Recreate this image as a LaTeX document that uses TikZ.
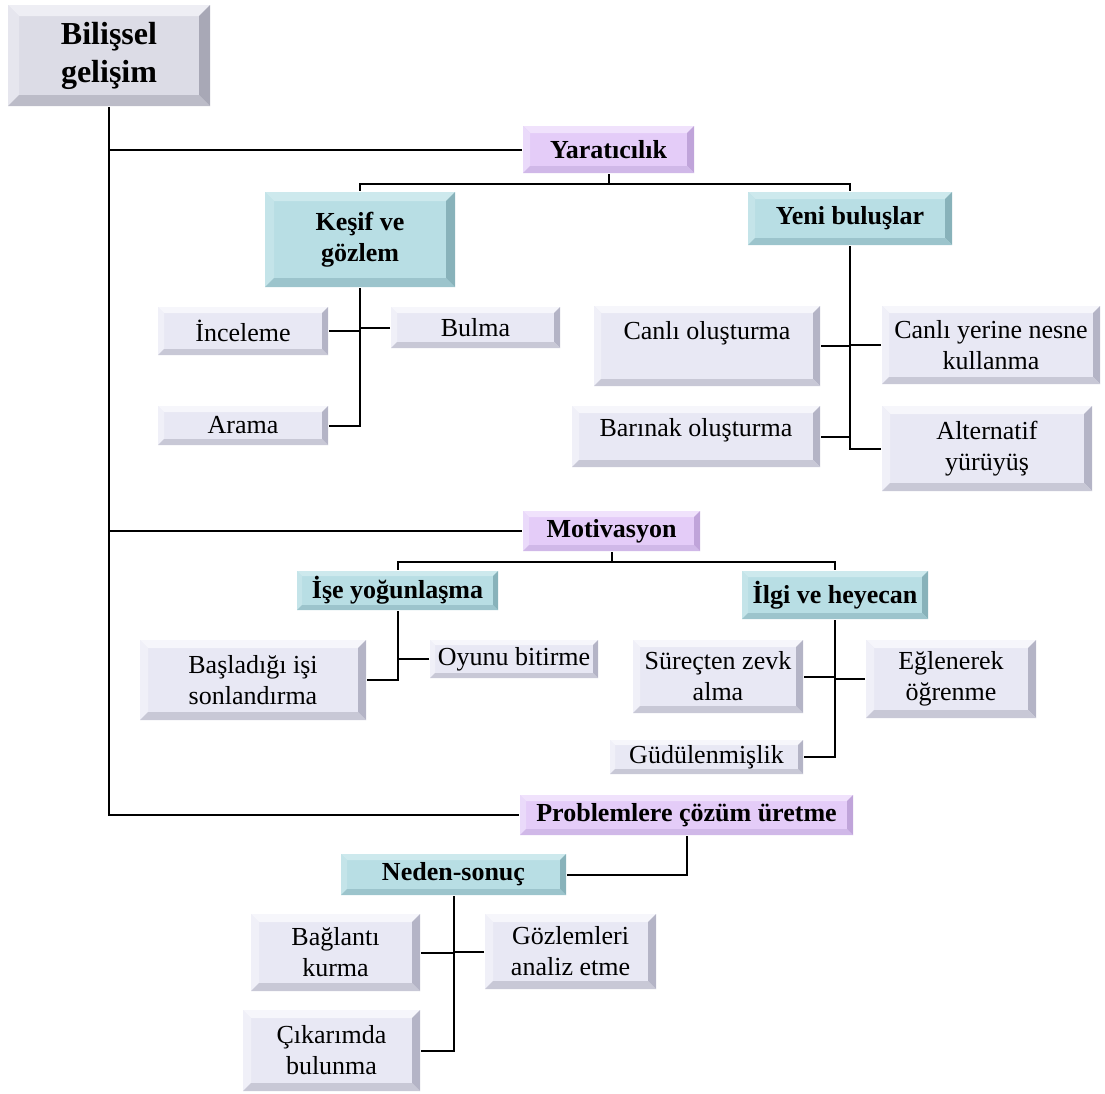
\documentclass[tikz,border=0pt]{standalone}
\usepackage{fontspec}
\setmainfont{Liberation Serif}
\usetikzlibrary{calc}
\definecolor{grayface}{HTML}{DCDCE6}\definecolor{graytop}{HTML}{EEEEF4}
\definecolor{grayleft}{HTML}{E6E6EE}\definecolor{grayright}{HTML}{A8A8B6}
\definecolor{graybot}{HTML}{BCBCC8}
\definecolor{lilface}{HTML}{E4CCF8}\definecolor{liltop}{HTML}{F0E2FC}
\definecolor{lilleft}{HTML}{EADAFA}\definecolor{lilright}{HTML}{C0A4DA}
\definecolor{lilbot}{HTML}{D0B8E8}
\definecolor{tealface}{HTML}{B8DEE4}\definecolor{tealtop}{HTML}{CDE9ED}
\definecolor{tealleft}{HTML}{C4E4E9}\definecolor{tealright}{HTML}{88B2BA}
\definecolor{tealbot}{HTML}{9CC4CC}
\definecolor{softface}{HTML}{E8E8F4}\definecolor{softtop}{HTML}{F6F6FB}
\definecolor{softleft}{HTML}{F0F0F8}\definecolor{softright}{HTML}{B4B4C6}
\definecolor{softbot}{HTML}{C8C8D6}
\begin{document}
\begin{tikzpicture}[x=1pt,y=-1pt,line width=2pt,
	bevel size/.store in=\bvsize, bevel size=6pt,
	bevel/.style n args={5}{fill=#1,draw=none,rectangle,inner sep=0pt,align=center,
		path picture={
			\path (path picture bounding box.north west) coordinate (bvnw)
				(path picture bounding box.south east) coordinate (bvse);
			\path (bvnw) ++(\bvsize,-\bvsize) coordinate (bvin)
				(bvse) ++(-\bvsize,\bvsize) coordinate (bvis);
			\fill[#2] (bvnw) -- (bvnw -| bvse) -- (bvin -| bvis) -- (bvin) -- cycle;
			\fill[#3] (bvnw) -- (bvin) -- (bvin |- bvis) -- (bvnw |- bvse) -- cycle;
			\fill[#4] (bvnw -| bvse) -- (bvse) -- (bvis) -- (bvin -| bvis) -- cycle;
			\fill[#5] (bvnw |- bvse) -- (bvin |- bvis) -- (bvis) -- (bvse) -- cycle;
		}},
	root/.style={bevel={grayface}{graytop}{grayleft}{grayright}{graybot},bevel size=11pt,
		font=\bfseries\fontsize{32}{38}\selectfont},
	topic/.style={bevel={lilface}{liltop}{lilleft}{lilright}{lilbot},
		font=\bfseries\fontsize{26}{31}\selectfont},
	sub/.style={bevel={tealface}{tealtop}{tealleft}{tealright}{tealbot},
		font=\bfseries\fontsize{26}{31}\selectfont},
	leaf/.style={bevel={softface}{softtop}{softleft}{softright}{softbot},
		font=\fontsize{26}{31}\selectfont}]
\useasboundingbox (0,0) rectangle (1105,1093);

\node[root,minimum width=202,minimum height=101] (bilissel) at (109,55.5) {Bilişsel\\gelişim};

\node[topic,minimum width=171,minimum height=47,bevel size=7pt] (yarat) at (608.5,149.5) {Yaratıcılık};
\node[sub,minimum width=190,minimum height=95,bevel size=9pt] (kesif) at (360,239.5) {Keşif ve\\gözlem};
\node[sub,minimum width=204,minimum height=53,bevel size=7pt] (yeni) at (850,218.5) {Yeni buluşlar};
\node[leaf,minimum width=170,minimum height=48] (incele) at (243,331) {İnceleme};
\node[leaf,minimum width=169,minimum height=41] (bulma) at (475.5,327.5) {Bulma};
\node[leaf,minimum width=170,minimum height=39] (arama) at (243,425.5) {Arama};
\node[leaf,minimum width=226,minimum height=80,bevel size=7pt,text depth=32pt] (canli) at (707,346) {Canlı oluşturma};
\node[leaf,minimum width=218,minimum height=78,bevel size=7pt] (canyer) at (991,345) {Canlı yerine nesne\\kullanma};
\node[leaf,minimum width=248,minimum height=61,bevel size=7pt,text depth=18pt] (barinak) at (696,436.5) {Barınak oluşturma};
\node[leaf,minimum width=210,minimum height=85,bevel size=8pt] (altern) at (987,448.5) {Alternatif\\yürüyüş};

\node[topic,minimum width=177,minimum height=40] (motiv) at (611.5,531) {Motivasyon};
\node[sub,minimum width=201,minimum height=39,bevel size=5pt] (iseyog) at (397.5,590.5) {İşe yoğunlaşma};
\node[sub,minimum width=186,minimum height=48] (ilgi) at (835,595) {İlgi ve heyecan};
\node[leaf,minimum width=226,minimum height=80,bevel size=8pt] (basladi) at (253,680) {Başladığı işi\\sonlandırma};
\node[leaf,minimum width=168,minimum height=38,bevel size=5pt] (oyunu) at (514,659) {Oyunu bitirme};
\node[leaf,minimum width=170,minimum height=73,bevel size=7pt] (surec) at (718,676.5) {Süreçten zevk\\alma};
\node[leaf,minimum width=170,minimum height=78,bevel size=8pt] (eglen) at (951,679) {Eğlenerek\\öğrenme};
\node[leaf,minimum width=193,minimum height=34,bevel size=5pt] (gudul) at (706.5,757) {Güdülenmişlik};

\node[topic,minimum width=333,minimum height=40] (problem) at (686.5,815) {Problemlere çözüm üretme};
\node[sub,minimum width=225,minimum height=41] (neden) at (453.5,874.5) {Neden-sonuç};
\node[leaf,minimum width=169,minimum height=77,bevel size=8pt] (baglanti) at (335.5,952.5) {Bağlantı\\kurma};
\node[leaf,minimum width=171,minimum height=75,bevel size=8pt] (gozlem) at (570.5,951.5) {Gözlemleri\\analiz etme};
\node[leaf,minimum width=177,minimum height=81,bevel size=8pt] (cikar) at (331.5,1050.5) {Çıkarımda\\bulunma};

\draw (bilissel.south) -- (bilissel.south |- problem.west) -- (problem.west);
\draw (bilissel.south |- yarat.west) -- (yarat.west);
\draw (bilissel.south |- motiv.west) -- (motiv.west);

\draw (yarat.south) -- ++(0,10) -| (kesif.north);
\draw (yarat.south) -- ++(0,10) -| (yeni.north);
\draw (kesif.south) -- (kesif.south |- arama.east) -- (arama.east);
\draw (incele.east) -- (kesif.south |- incele.east);
\draw (bulma.west) -- (kesif.south |- bulma.west);
\draw (yeni.south) -- (yeni.south |- altern.west) -- (altern.west);
\draw (canli.east) -- (yeni.south |- canli.east);
\draw (canyer.west) -- (yeni.south |- canyer.west);
\draw (barinak.east) -- (yeni.south |- barinak.east);

\draw (motiv.south) -- ++(0,10) -| (iseyog.north);
\draw (motiv.south) -- ++(0,10) -| (ilgi.north);
\draw (iseyog.south) -- (iseyog.south |- basladi.east) -- (basladi.east);
\draw (oyunu.west) -- (iseyog.south |- oyunu.west);
\draw (ilgi.south) -- (ilgi.south |- gudul.east) -- (gudul.east);
\draw (surec.east) -- (ilgi.south |- surec.east);
\draw (eglen.west) -- (ilgi.south |- eglen.west);

\draw (problem.south) |- (neden.east);
\draw (neden.south) -- (neden.south |- cikar.east) -- (cikar.east);
\draw (baglanti.east) -- (neden.south |- baglanti.east);
\draw (gozlem.west) -- (neden.south |- gozlem.west);
\end{tikzpicture}
\end{document}
